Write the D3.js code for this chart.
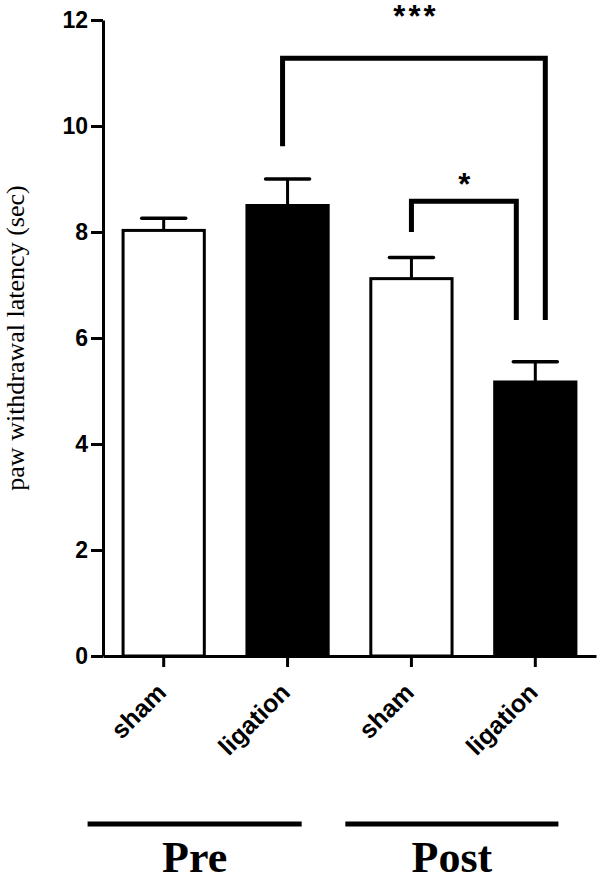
<!DOCTYPE html>
<html>
<head>
<meta charset="utf-8">
<script src="https://cdn.jsdelivr.net/npm/d3@7"></script>
<style>
  body { margin: 0; background: #fff; }
  svg { display: block; }
</style>
</head>
<body>
<div id="chart"></div>
<script>
// data
var groups = ["sham", "ligation", "sham", "ligation"];
var means = [8.03, 8.5, 7.12, 5.17];
var sems = [0.23, 0.5, 0.4, 0.38];
var fills = ["white", "black", "white", "black"];
var yTicks = [0, 2, 4, 6, 8, 10, 12];

// significance brackets: [left bar, right bar, top value, left leg end, right leg end, label]
var bracketFrom = [1, 2];
var bracketTo = [3, 3];
var bracketTop = [11.28, 8.58];
var bracketLeftEnd = [9.62, 8.0];
var bracketRightEnd = [6.34, 6.34];
var bracketLabels = ["***", "*"];

var phases = ["Pre", "Post"];
var phaseFirst = [0, 2];
var phaseLast = [1, 3];

var svgWidth = 600;
var svgHeight = 881;

var margin = { top: 20, left: 103, bottom: 225, right: 2 };
var height = svgHeight - margin.top - margin.bottom; // 636
var width = svgWidth - margin.left - margin.right;

var svg = d3.select("#chart")
  .append("svg")
  .attr("width", svgWidth)
  .attr("height", svgHeight);

var chartGroup = svg.append("g")
  .attr("transform", `translate(${margin.left}, ${margin.top})`);

var x = d3.scaleBand()
  .domain(d3.range(groups.length))
  .range([0, width - 2])
  .paddingInner(0.32)
  .paddingOuter(0.15);

var y = d3.scaleLinear()
  .domain([0, 12])
  .range([height, 0]);

var cx = i => x(i) + x.bandwidth() / 2;

// bars
chartGroup.selectAll("rect.bar")
  .data(means)
  .enter()
  .append("rect")
  .attr("class", "bar")
  .attr("x", (d, i) => x(i) + 1.5)
  .attr("y", d => y(d))
  .attr("width", x.bandwidth() - 3)
  .attr("height", d => y(0) - y(d))
  .attr("fill", (d, i) => fills[i])
  .attr("stroke", "black")
  .attr("stroke-width", 3);

// error bars (upper only)
chartGroup.selectAll("line.err")
  .data(means)
  .enter()
  .append("line")
  .attr("x1", (d, i) => cx(i))
  .attr("x2", (d, i) => cx(i))
  .attr("y1", d => y(d))
  .attr("y2", (d, i) => y(d + sems[i]))
  .attr("stroke", "black")
  .attr("stroke-width", 3);

chartGroup.selectAll("line.cap")
  .data(means)
  .enter()
  .append("line")
  .attr("x1", (d, i) => cx(i) - 22)
  .attr("x2", (d, i) => cx(i) + 22)
  .attr("y1", (d, i) => y(d + sems[i]))
  .attr("y2", (d, i) => y(d + sems[i]))
  .attr("stroke", "black")
  .attr("stroke-width", 3.5)
  .attr("stroke-linecap", "round");

// y axis
var leftAxis = d3.axisLeft(y)
  .tickValues(yTicks)
  .tickSize(12)
  .tickPadding(3)
  .tickSizeOuter(0);

var yAxisG = chartGroup.append("g").call(leftAxis);
yAxisG.select(".domain").attr("stroke-width", 3);
yAxisG.selectAll(".tick line").attr("stroke-width", 3);
yAxisG.selectAll("text")
  .attr("font-family", "'Liberation Sans', Arial, sans-serif")
  .attr("font-weight", "bold")
  .attr("font-size", "23px")
  .attr("fill", "black");

// x axis
var bottomAxis = d3.axisBottom(x)
  .tickFormat(i => groups[i])
  .tickSize(11)
  .tickSizeOuter(0);

var xAxisG = chartGroup.append("g")
  .attr("transform", `translate(0, ${height})`)
  .call(bottomAxis);
xAxisG.select(".domain").attr("stroke-width", 3);
xAxisG.selectAll(".tick line").attr("stroke-width", 3);
xAxisG.selectAll("text")
  .attr("font-family", "'Liberation Sans', Arial, sans-serif")
  .attr("font-weight", "bold")
  .attr("font-size", "25px")
  .attr("fill", "black")
  .attr("text-anchor", "end")
  .attr("dy", null)
  .attr("y", null)
  .attr("transform", "translate(4, 38) rotate(-45)");

// y axis label
chartGroup.append("text")
  .attr("transform", "rotate(-90)")
  .attr("x", 0 - (338 - margin.top))
  .attr("y", 0 - margin.left + 24)
  .attr("text-anchor", "middle")
  .attr("font-family", "'Liberation Serif', 'Times New Roman', serif")
  .attr("font-size", "26px")
  .text("paw withdrawal latency (sec)");

// brackets
var legOffsetL = [-5, 0];
var legOffsetR = [10, -19];
var labelGap = [31, 6];
bracketLabels.forEach(function (label, k) {
  var xl = cx(bracketFrom[k]) + legOffsetL[k];
  var xr = cx(bracketTo[k]) + legOffsetR[k];
  var path = d3.path();
  path.moveTo(xl, y(bracketLeftEnd[k]));
  path.lineTo(xl, y(bracketTop[k]));
  path.lineTo(xr, y(bracketTop[k]));
  path.lineTo(xr, y(bracketRightEnd[k]));
  chartGroup.append("path")
    .attr("d", path.toString())
    .attr("fill", "none")
    .attr("stroke", "black")
    .attr("stroke-width", 5);
  chartGroup.append("text")
    .attr("x", (xl + xr) / 2 + 2)
    .attr("y", y(bracketTop[k]) - labelGap[k])
    .attr("text-anchor", "middle")
    .attr("font-family", "'Liberation Sans', Arial, sans-serif")
    .attr("font-weight", "bold")
    .attr("font-size", "31px")
    .attr("letter-spacing", "3px")
    .text(label);
});

// phase lines and labels
var phaseLeft = [-34, -24];
var phaseRight = [-28, -19];
phases.forEach(function (p, k) {
  var x1 = x(phaseFirst[k]) + phaseLeft[k];
  var x2 = x(phaseLast[k]) + x.bandwidth() + phaseRight[k];
  chartGroup.append("line")
    .attr("x1", x1)
    .attr("x2", x2)
    .attr("y1", 824 - margin.top)
    .attr("y2", 824 - margin.top)
    .attr("stroke", "black")
    .attr("stroke-width", 5);
  chartGroup.append("text")
    .attr("x", (x1 + x2) / 2)
    .attr("y", 872 - margin.top)
    .attr("text-anchor", "middle")
    .attr("font-family", "'Liberation Serif', 'Times New Roman', serif")
    .attr("font-weight", "bold")
    .attr("font-size", "44px")
    .text(p);
});
</script>
</body>
</html>
